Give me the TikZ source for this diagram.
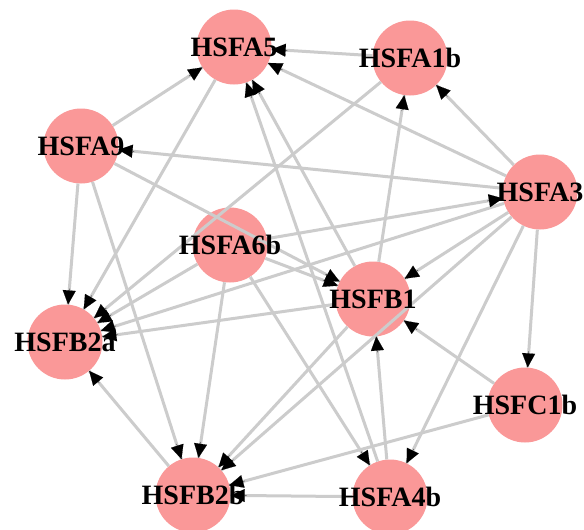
\documentclass[tikz,border=0pt]{standalone}
\usepackage{fontspec}
\setmainfont{Liberation Serif}
\usetikzlibrary{arrows.meta,calc}
\definecolor{nodefill}{RGB}{250,152,152}
\definecolor{edgegray}{RGB}{204,204,204}
\begin{document}
\begin{tikzpicture}[x=1pt,y=-1pt,
  gnode/.style={circle, fill=nodefill, minimum size=75pt, inner sep=0pt},
  glabel/.style={font=\bfseries\fontsize{28}{28}\selectfont, inner sep=0pt, text=black},
  edgeln/.style={draw=edgegray, line width=3pt},
  tipst/.style={draw=black, fill=black, line width=0.1pt, -{Triangle[length=14pt,width=13pt]}}]
\useasboundingbox (0,0) rectangle (584,530);
\fill[white] (0,0) rectangle (584,530);
% nodes
\foreach \n/\x/\y in {A5/234/47, A1b/410/58, A9/81/146, A3/540/192, A6b/230/245,
                      B1/373/299, B2a/65/342, C1b/525/405, B2b/193/495, A4b/390/497}
  {\node[gnode] (\n) at (\x,\y) {};}
% edge lines
\def\edgelist{A1b/A5, A3/A5, A9/A5, B1/A5, A4b/A5, A3/A1b, B1/A1b, A3/A9, A6b/A3,
  A3/B1, A3/C1b, A3/A4b, A3/B2b, A3/B2a, A9/B2a, A9/B2b, A9/B1, A5/B2a, A1b/B2a,
  A6b/B2a, A6b/B1, A6b/B2b, A6b/A4b, B1/B2a, B1/B2b, C1b/B1, C1b/B2b, A4b/B1,
  A4b/B2b, B2b/B2a}
\foreach \s/\t in \edgelist {\draw[edgeln] (\s) -- (\t);}
% labels
\node[glabel] (lA5) at (A5) {HSFA5};
\node[glabel] (lA1b) at (A1b) {HSFA1b};
\node[glabel] (lA9) at (A9) {HSFA9};
\node[glabel] (lA3) at (A3) {HSFA3};
\node[glabel] (lA6b) at (A6b) {HSFA6b};
\node[glabel] (lB1) at (B1) {HSFB1};
\node[glabel] (lB2a) at (B2a) {HSFB2a};
\node[glabel] (lC1b) at (C1b) {HSFC1b};
\node[glabel] (lB2b) at (B2b) {HSFB2b};
\node[glabel] (lA4b) at (A4b) {HSFA4b};
% arrow tips
\foreach \s/\t in \edgelist {
  \path (\s) -- (\t) coordinate[pos=1] (tB);
  \draw[tipst] ($(tB)!16pt!(\s)$) -- (tB);
}
\end{tikzpicture}
\end{document}
